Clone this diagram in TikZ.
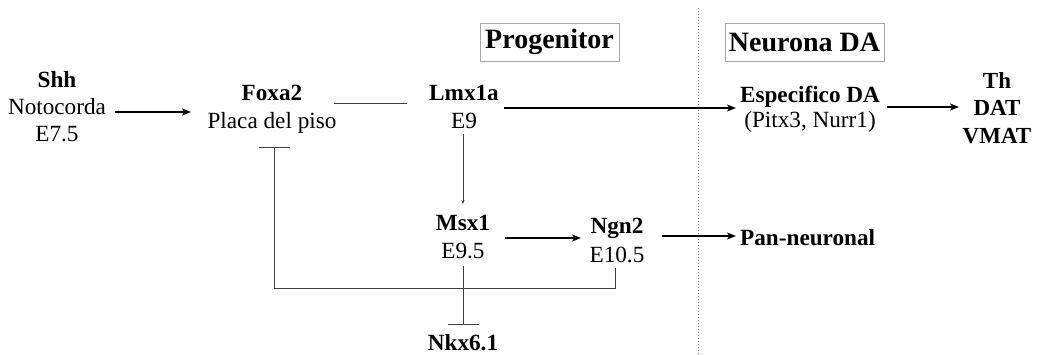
\documentclass[tikz,border=0pt]{standalone}
\usepackage{fontspec}
\setmainfont{Liberation Serif}
\usetikzlibrary{arrows.meta}
\begin{document}
\begin{tikzpicture}[x=1pt,y=-1pt,
  txt/.style={inner sep=0pt,align=center,anchor=base,font=\fontsize{23.2}{27}\selectfont},
  hdr/.style={draw=black!35,line width=0.6pt,inner sep=0pt,minimum height=38pt,font=\fontsize{28}{30}\selectfont\bfseries},
  thick arrow/.style={line width=1.6pt,-{Stealth[length=9pt,width=7pt,inset=2.5pt]}},
  thin line/.style={line width=0.7pt,black!75},
  thin arrow/.style={line width=0.7pt,black!75,-{Stealth[length=4pt,width=3pt]}},
  inhib/.style={line width=0.7pt,black!75,-{Bar[width=31pt,line width=0.9pt]}},
  sep/.style={black!50,line width=1pt,dotted}]
\useasboundingbox (0,0) rectangle (1039,354);
\fill[white] (0,0) rectangle (1039,354);

% headers
\node[hdr,minimum width=139pt] (prog) at (549.5,42) {Progenitor};
\node[hdr,minimum width=159pt] (neur) at (804.5,42) {Neurona DA};

% separator
\coordinate (septop) at (698,8);
\coordinate (sepbot) at (698,354);
\draw[sep] (septop) -- (sepbot);

% nodes (anchor = baseline of last line)
\node[txt] (shh) at (57,141) {\textbf{Shh}\\Notocorda\\E7.5};
\node[txt,font=\fontsize{23.2}{28}\selectfont] (foxa2) at (272,128) {\textbf{Foxa2}\\Placa del piso};
\node[txt,font=\fontsize{23.2}{28}\selectfont] (lmx) at (464,128) {\textbf{Lmx1a}\\E9};
\node[txt,font=\fontsize{23.2}{25}\selectfont] (esp) at (810,127) {\textbf{Especifico DA}\\(Pitx3, Nurr1)};
\node[txt,font=\fontsize{23}{27.5}\selectfont\bfseries] (th) at (997,143) {Th\\DAT\\VMAT};
\node[txt,font=\fontsize{23.2}{28}\selectfont] (msx) at (463,258) {\textbf{Msx1}\\E9.5};
\node[txt,font=\fontsize{23.2}{29}\selectfont] (ngn) at (617,262) {\textbf{Ngn2}\\E10.5};
\node[txt,anchor=base west] (pan) at (740,245) {\textbf{Pan-neuronal}};
\node[txt] (nkx) at (463,350) {\textbf{Nkx6.1}};

% connector points
\coordinate (a1s) at (115,112); \coordinate (a1e) at (191,112);
\coordinate (l1s) at (334,103); \coordinate (l1e) at (407,103);
\coordinate (a2s) at (504,108); \coordinate (a2e) at (736,108);
\coordinate (a3s) at (887,107); \coordinate (a3e) at (959,107);
\coordinate (v1s) at (463,134); \coordinate (v1e) at (463,204);
\coordinate (a4s) at (505,238); \coordinate (a4e) at (581,238);
\coordinate (a5s) at (662,236); \coordinate (a5e) at (736,236);
\coordinate (fbs) at (615,268); \coordinate (fbc) at (615,288);
\coordinate (fbd) at (274,288); \coordinate (fbe) at (274,147);
\coordinate (i2s) at (463,266); \coordinate (i2e) at (463,325);

\draw[thick arrow] (a1s) -- (a1e);
\draw[thin line] (l1s) -- (l1e);
\draw[thick arrow] (a2s) -- (a2e);
\draw[thick arrow] (a3s) -- (a3e);
\draw[thin arrow] (v1s) -- (v1e);
\draw[thick arrow] (a4s) -- (a4e);
\draw[thick arrow] (a5s) -- (a5e);
\draw[inhib] (fbs) -- (fbc) -- (fbd) -- (fbe);
\draw[inhib] (i2s) -- (i2e);
\end{tikzpicture}
\end{document}
